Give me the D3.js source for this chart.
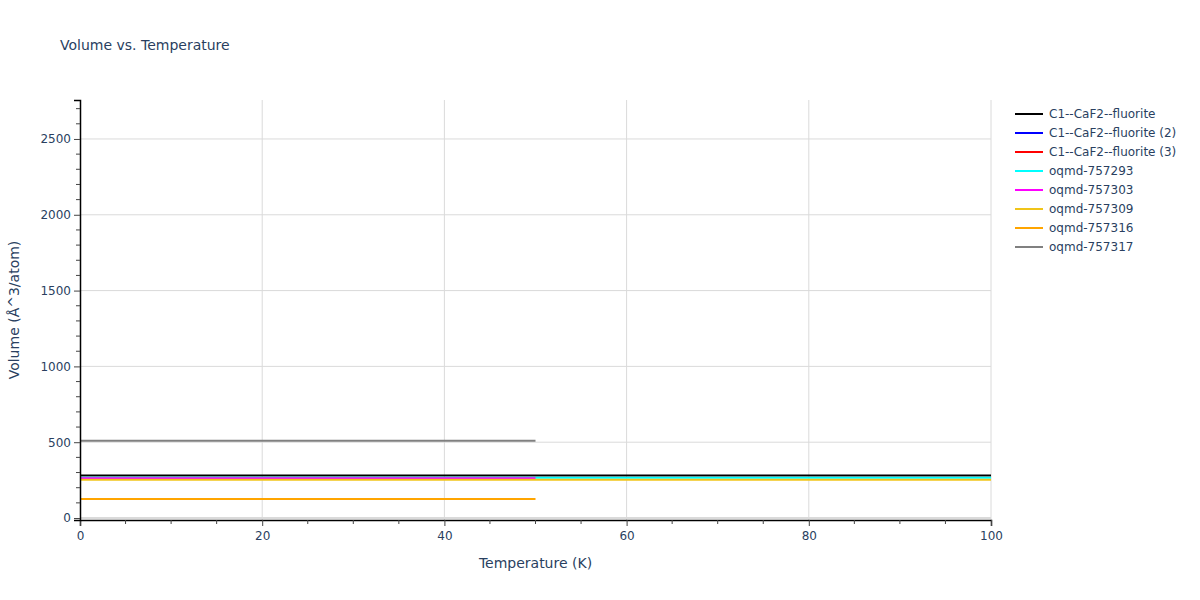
<!DOCTYPE html>
<html>
<head>
<meta charset="utf-8">
<script src="https://cdn.jsdelivr.net/npm/d3@7"></script>
<style>
  body { margin: 0; background: #fff; }
  text { font-family: "DejaVu Sans", Verdana, sans-serif; fill: #2a3f5f; }
</style>
</head>
<body>
<div id="master"></div>
<script>
// series data (temperature K, volume Å^3/atom)
const names = ["C1--CaF2--fluorite", "C1--CaF2--fluorite (2)", "C1--CaF2--fluorite (3)",
  "oqmd-757293", "oqmd-757303", "oqmd-757309", "oqmd-757316", "oqmd-757317"]
const colors = ["black", "blue", "red", "cyan", "magenta", "#f0c419", "orange", "gray"]
const fluorite = [[0, 280], [100, 280]]
const fluorite2 = []   // nothing visible for these two
const fluorite3 = []
const oqmd757293 = [[0, 265], [100, 265]]
const oqmd757303 = [[0, 263], [50, 263]]
const oqmd757309 = [[0, 252], [100, 252]]
const oqmd757316 = [[0, 125], [50, 125]]
const oqmd757317 = [[0, 510], [50, 510]]
const series = [fluorite, fluorite2, fluorite3, oqmd757293, oqmd757303, oqmd757309, oqmd757316, oqmd757317]

const xTicks = [0, 20, 40, 60, 80, 100]
const yTicks = [0, 500, 1000, 1500, 2000, 2500]

const w = 1200, h = 600
const padL = 80, padR = 991, padT = 100, padB = 520

let svg = d3.select("#master").append("svg").attr("width", w).attr("height", h)

let x = d3.scaleLinear().domain([0, 100]).range([padL, padR])
let y = d3.scaleLinear().domain([-13, 2757]).range([padB, padT])

// grid
svg.append("g").selectAll("line").data(xTicks.slice(1)).enter().append("line")
  .attr("x1", d => x(d)).attr("x2", d => x(d)).attr("y1", padT).attr("y2", padB)
  .attr("stroke", "#dadada").attr("stroke-width", 1)
svg.append("g").selectAll("line").data(yTicks).enter().append("line")
  .attr("x1", padL).attr("x2", padR).attr("y1", d => y(d)).attr("y2", d => y(d))
  .attr("stroke", "#dadada").attr("stroke-width", d => d == 0 ? 2 : 1)

// lines
let line = d3.line().x(d => x(d[0])).y(d => y(d[1]))
series.forEach((s, i) => {
  if (s.length == 0) return
  svg.append("path").datum(s).attr("d", line)
    .attr("fill", "none").attr("stroke", colors[i]).attr("stroke-width", 2)
})

// axes
let xAxis = d3.axisBottom(x).tickValues(xTicks).tickFormat(d3.format("d")).tickSize(6).tickPadding(5)
let gx = svg.append("g").attr("transform", "translate(0," + padB + ")").call(xAxis)
gx.selectAll(".tick line").attr("stroke", "#444")
let xMinor = d3.range(0, 101, 5).filter(d => d % 20 != 0)
gx.selectAll(".minor").data(xMinor).enter().append("line")
  .attr("x1", d => x(d)).attr("x2", d => x(d)).attr("y1", 0).attr("y2", 4).attr("stroke", "#444")

let yAxis = d3.axisLeft(y).tickValues(yTicks).tickFormat(d3.format("d")).tickSize(6).tickPadding(3)
let gy = svg.append("g").attr("transform", "translate(" + padL + ",0)").call(yAxis)
gy.selectAll(".tick line").attr("stroke", "#444")
let yMinor = d3.range(100, 2701, 100).filter(d => d % 500 != 0)
gy.selectAll(".minor").data(yMinor).enter().append("line")
  .attr("x1", 0).attr("x2", -4).attr("y1", d => y(d)).attr("y2", d => y(d)).attr("stroke", "#444")

svg.selectAll(".domain").attr("stroke", "black").attr("stroke-width", 1.5)
svg.selectAll(".tick text").style("font-size", "12px").style("fill", "#2a3f5f")
  .style("font-family", "'DejaVu Sans', Verdana, sans-serif")

// titles
svg.append("text").attr("x", 60).attr("y", 50).style("font-size", "14px").text("Volume vs. Temperature")
svg.append("text").attr("x", (padL + padR) / 2).attr("y", 568).attr("text-anchor", "middle")
  .style("font-size", "14px").text("Temperature (K)")
svg.append("text").attr("transform", "translate(19," + (padT + padB) / 2 + ") rotate(-90)")
  .attr("text-anchor", "middle").style("font-size", "14px").text("Volume (Å^3/atom)")

// legend
let legend = svg.append("g")
names.forEach((n, i) => {
  let ly = 114 + i * 19
  legend.append("line").attr("x1", 1015).attr("x2", 1043).attr("y1", ly).attr("y2", ly)
    .attr("stroke", colors[i]).attr("stroke-width", 2)
  legend.append("text").attr("x", 1049).attr("y", ly + 4).style("font-size", "12px").text(n)
})
</script>
</body>
</html>
